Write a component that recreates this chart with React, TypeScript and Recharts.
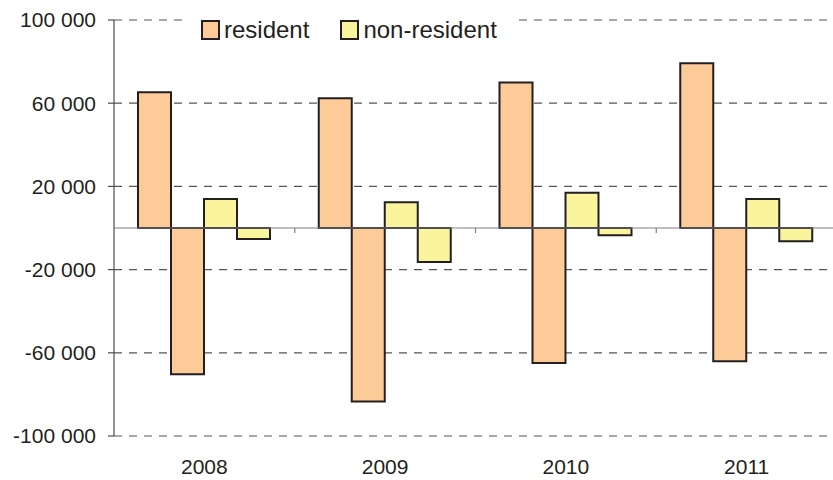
import React from "react";
import {
  BarChart, Bar, XAxis, YAxis, CartesianGrid, Legend, ReferenceLine,
} from "recharts";

// years and flows (inflow positive, outflow negative)
const years = ["2008", "2009", "2010", "2011"];
const residentIn = [65300, 62400, 69900, 79200];
const residentOut = [-70300, -83400, -64900, -64100];
const nonResidentIn = [14000, 12400, 16900, 14000];
const nonResidentOut = [-5300, -16400, -3500, -6400];
const yTicks = [-100000, -60000, -20000, 20000, 60000, 100000];
const legendOrder = ["resident", "non-resident"];

const ORANGE = "#FDCB98";
const YELLOW = "#FAF49C";
const EDGE = "#231F20";
const FONT = "'Liberation Sans', Arial, sans-serif";

const data = years.map((y, i) => ({
  year: y,
  resIn: residentIn[i],
  resOut: residentOut[i],
  nonIn: nonResidentIn[i],
  nonOut: nonResidentOut[i],
}));

// 100000 -> "100 000"
const fmtY = (v: number) => {
  const s = String(Math.abs(v)).replace(/\B(?=(\d{3})+(?!\d))/g, " ");
  return v < 0 ? `-${s}` : s;
};

// zero line with small tick marks between the year groups
const ZeroLine = (p: any) => {
  const { x1, x2, y1 } = p;
  const w = x2 - x1;
  return (
    <g>
      <line x1={x1} x2={x2} y1={y1} y2={y1} stroke="#808080" strokeWidth={1.2} />
      {[1, 2, 3].map((i) => (
        <line
          key={i}
          x1={x1 + (w * i) / years.length}
          x2={x1 + (w * i) / years.length}
          y1={y1}
          y2={y1 + 5}
          stroke="#808080"
          strokeWidth={1.2}
        />
      ))}
    </g>
  );
};

const LegendBox = ({ payload }: any) => {
  const items = legendOrder
    .map((name) => (payload || []).find((e: any) => e.value === name))
    .filter(Boolean);
  return (
    <div style={{ display: "flex", alignItems: "center", height: 44, fontFamily: FONT, fontSize: 24, color: EDGE }}>
      {items.map((e: any, i: number) => (
        <div key={e.value} style={{ display: "flex", alignItems: "center", marginLeft: i === 0 ? 18 : 31 }}>
          <span
            style={{
              display: "inline-block", width: 15, height: 16,
              background: e.color, border: `2px solid ${EDGE}`, marginRight: 4,
            }}
          />
          <span>{e.value}</span>
        </div>
      ))}
    </div>
  );
};

export default function App() {
  return (
    <div style={{ position: "absolute", left: 0, top: 0, width: 833, height: 480, overflow: "hidden", background: "#fff" }}>
      <BarChart
        width={840}
        height={480}
        data={data}
        margin={{ top: 20, right: 3, left: 0, bottom: 0 }}
        barGap={0}
        barCategoryGap={24}
      >
        <CartesianGrid vertical={false} stroke="#555" strokeDasharray="8 7" strokeWidth={1.2} />
        <XAxis
          dataKey="year"
          axisLine={false}
          tickLine={false}
          tickSize={0}
          tickMargin={23}
          height={44}
          tick={{ fontSize: 21, fill: EDGE, fontFamily: FONT }}
        />
        <YAxis
          width={114}
          domain={[-100000, 100000]}
          ticks={yTicks}
          tickFormatter={fmtY}
          axisLine={{ stroke: "#4d4d4d", strokeWidth: 1.2 }}
          tickLine={{ stroke: "#4d4d4d", strokeWidth: 1.2 }}
          tickSize={6}
          tickMargin={12}
          tick={{ fontSize: 21, fill: EDGE, fontFamily: FONT }}
        />
        <ReferenceLine y={0} shape={ZeroLine} />
        <Legend
          content={<LegendBox />}
          layout="horizontal"
          verticalAlign="middle"
          align="center"
          wrapperStyle={{ position: "absolute", left: 183, top: 8, width: 329, height: 44, background: "#fff" }}
        />
        <Bar dataKey="resIn" name="resident" fill={ORANGE} stroke={EDGE} strokeWidth={2} isAnimationActive={false} />
        <Bar dataKey="resOut" name="resident out" legendType="none" fill={ORANGE} stroke={EDGE} strokeWidth={2} isAnimationActive={false} />
        <Bar dataKey="nonIn" name="non-resident" fill={YELLOW} stroke={EDGE} strokeWidth={2} isAnimationActive={false} />
        <Bar dataKey="nonOut" name="non-resident out" legendType="none" fill={YELLOW} stroke={EDGE} strokeWidth={2} isAnimationActive={false} />
      </BarChart>
    </div>
  );
}
